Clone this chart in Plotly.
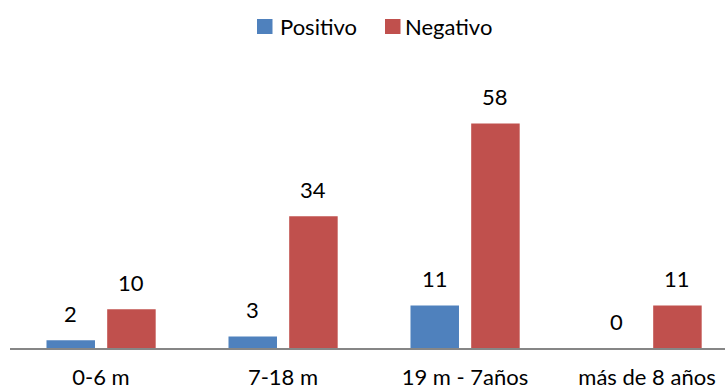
import plotly.graph_objects as go

categories = ["0-6 m", "7-18 m", "19 m - 7años", "más de 8 años"]
positivo = [2, 3, 11, 0]
negativo = [10, 34, 58, 11]

series_names = ["Positivo", "Negativo"]
series_colors = ["#4F81BD", "#C0504D"]

FONT = "Lato, Calibri, Carlito, sans-serif"
W, H = 725, 392
ML, MR, MT, MB = 10, 0, 77, 44
CAT_PX = 182.0  # pixel width of one category slot
PLOT_W = W - ML - MR
PLOT_H = H - MT - MB

bar_w = 0.2665
offsets = [-0.2995, 0.034]

fig = go.Figure()
for name, vals, col, off in zip(series_names, [positivo, negativo], series_colors, offsets):
    fig.add_trace(go.Bar(
        x=categories, y=vals, name=name,
        marker=dict(color=col, line=dict(width=0)),
        width=bar_w, offset=off, showlegend=False,
    ))

# value labels above each bar
annotations = []
for vals, off in zip([positivo, negativo], offsets):
    for cat, v in zip(categories, vals):
        annotations.append(dict(
            x=cat, y=v, xref="x", yref="y",
            xshift=(off + bar_w / 2) * CAT_PX, yshift=27,
            text=str(v), showarrow=False,
            xanchor="center", yanchor="middle",
            font=dict(family=FONT, size=22, color="#000000"),
        ))

def px_x(p):
    return (p - ML) / PLOT_W

def px_y(p):
    return (H - MB - p) / PLOT_H

# legend: coloured squares and labels at the top
shapes = []
legend_items = [(257, 278, "Positivo", series_colors[0]),
                (385, 403, "Negativo", series_colors[1])]
for sx, tx, label, col in legend_items:
    shapes.append(dict(type="rect", xref="paper", yref="paper",
                       x0=px_x(sx), x1=px_x(sx + 15.5),
                       y0=px_y(34), y1=px_y(19),
                       fillcolor=col, line=dict(width=0)))
    annotations.append(dict(
        x=px_x(tx), y=px_y(26.5), xref="paper", yref="paper",
        text=label, showarrow=False, xanchor="left", yanchor="middle",
        font=dict(family=FONT, size=22, color="#000000"),
    ))

fig.update_layout(
    width=W, height=H,
    margin=dict(l=ML, r=MR, t=MT, b=MB),
    paper_bgcolor="white", plot_bgcolor="white",
    barmode="overlay",
    showlegend=False,
    font=dict(family=FONT, size=22, color="#000000"),
    xaxis=dict(
        type="category",
        range=[-0.5, -0.5 + PLOT_W / CAT_PX],
        showline=True, linecolor="#868686", linewidth=2,
        showgrid=False, zeroline=False, ticks="",
        ticklabelstandoff=9, automargin=False,
        tickfont=dict(family=FONT, size=22, color="#000000"),
    ),
    yaxis=dict(range=[0, 70], visible=False, showgrid=False, zeroline=False,
               automargin=False),
    annotations=annotations,
    shapes=shapes,
)

fig.write_html("out.html")
